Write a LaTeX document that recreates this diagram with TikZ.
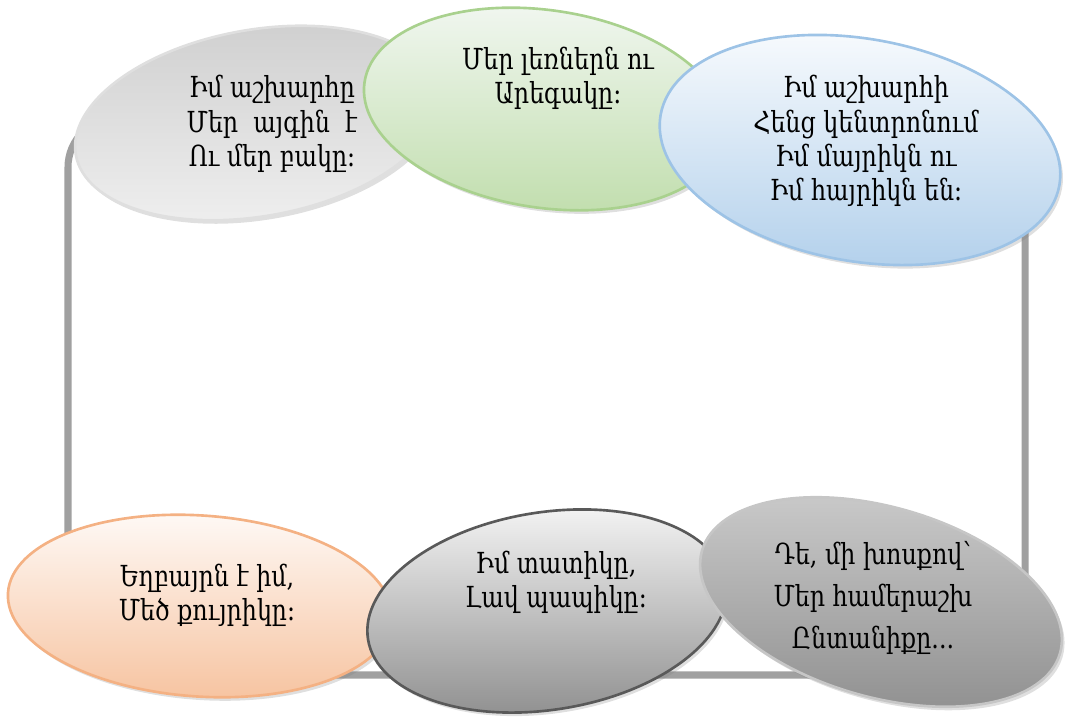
\documentclass[tikz,border=0pt]{standalone}
\usepackage{fontspec}
\newfontfamily\armfont[FakeStretch=0.82]{DejaVu Serif}
\usetikzlibrary{shapes.geometric,shadows}
\definecolor{ringgray}{HTML}{A0A0A0}
\definecolor{greenedge}{HTML}{A9D18E}
\definecolor{blueedge}{HTML}{9DC3E6}
\definecolor{orangeedge}{HTML}{F4B183}
\tikzset{
  oval/.style={ellipse,draw,line width=1.5pt,inner sep=0pt,
    drop shadow={opacity=0.25,shadow xshift=1.5pt,shadow yshift=-2pt}},
  verse/.style={align=center,font=\armfont\fontsize{16.5}{19.5}\selectfont}
}
\begin{document}
\begin{tikzpicture}[x=0.02cm,y=-0.02cm]
\useasboundingbox (0,0) rectangle (1071,720);
\coordinate (ringnw) at (68,118);
\coordinate (ringse) at (1025,675);
\draw[line width=4pt,ringgray,rounded corners=28pt] (ringnw) rectangle (ringse);
% top row
\node[oval,draw=gray!25,top color=gray!38,bottom color=gray!12,
  minimum width=7.36cm,minimum height=3.73cm,rotate=10] (world) at (257,123) {};
\node[oval,draw=greenedge,top color=green!40!black!5!white,bottom color=greenedge!70,
  minimum width=7.3cm,minimum height=3.95cm,rotate=-8.5] (hills) at (545,109) {};
\node[oval,draw=blueedge,top color=blueedge!5,bottom color=blueedge!75,
  minimum width=8.1cm,minimum height=4.45cm,rotate=-10] (parents) at (860,150) {};
% bottom row
\node[oval,draw=orangeedge,top color=orangeedge!6,bottom color=orangeedge!75,
  minimum width=7.7cm,minimum height=3.62cm,rotate=-4] (sister) at (200,606) {};
\node[oval,draw=black!65,top color=gray!6,bottom color=gray!110!black,
  minimum width=7.25cm,minimum height=3.95cm,rotate=9] (grands) at (547,611) {};
\node[oval,draw=gray!45,top color=gray!40,bottom color=gray!85,
  minimum width=7.45cm,minimum height=3.8cm,rotate=-16] (family) at (881,602) {};
% verses
\node[verse] (worldtxt) at (272,124) {Իմ աշխարհը\\Մեր\ \ այգին\ \ է\\Ու մեր բակը:};
\node[verse] (hillstxt) at (558,78) {Մեր լեռներն ու\\Արեգակը:};
\node[verse] (parentstxt) at (866,141) {Իմ աշխարհի\\Հենց կենտրոնում\\Իմ մայրիկն ու\\Իմ հայրիկն են:};
\node[verse] (sistertxt) at (207,595) {Եղբայրն է իմ,\\Մեծ քույրիկը:};
\node[verse] (grandstxt) at (556,582) {Իմ տատիկը,\\Լավ պապիկը:};
\node[verse,font=\armfont\fontsize{16.5}{24}\selectfont] (familytxt) at (873,598) {Դե, մի խոսքով՝\\Մեր համերաշխ\\Ընտանիքը...};
\end{tikzpicture}
\end{document}
